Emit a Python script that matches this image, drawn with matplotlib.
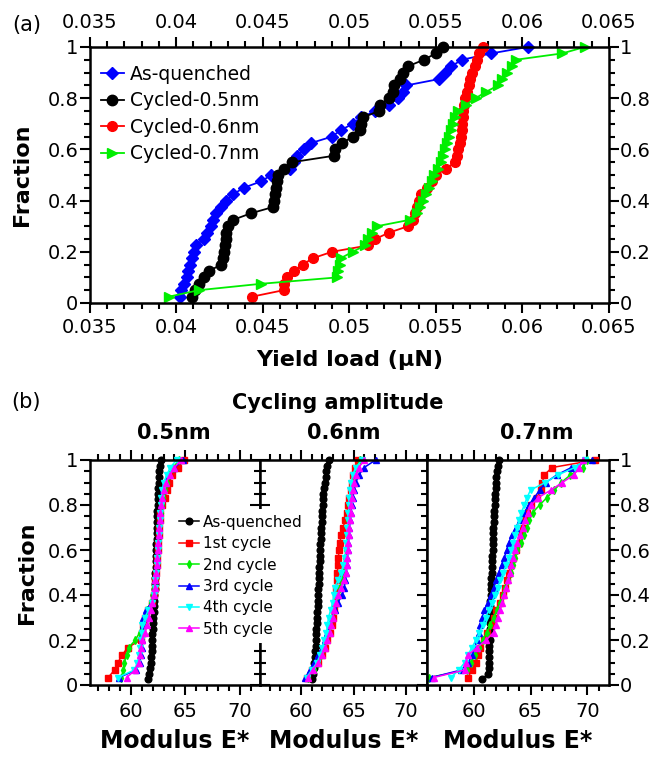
import matplotlib
matplotlib.use("Agg")
import matplotlib.pyplot as plt
import numpy as np
from matplotlib.ticker import MultipleLocator, FuncFormatter

plt.rcParams['font.family'] = ['DejaVu Sans']

# (a) yield load in uN, sorted; fraction is rank / n
yield_as_quenched = [0.0402, 0.0403, 0.04045, 0.0406, 0.0407, 0.0408, 0.0409, 0.04105, 0.04112, 0.0416,
                     0.0418, 0.0420, 0.0421, 0.0423, 0.0426, 0.0429, 0.0433, 0.0439, 0.0449, 0.0455,
                     0.0466, 0.0468, 0.0470, 0.0474, 0.0478, 0.0490, 0.0495, 0.0502, 0.0507, 0.0515,
                     0.0523, 0.0528, 0.0531, 0.0533, 0.0552, 0.0555, 0.0559, 0.0565, 0.0582, 0.0603]
yield_cycled_05 = [0.0409, 0.0411, 0.0413, 0.0416, 0.0419, 0.0426, 0.0427, 0.04275, 0.0428, 0.04285,
                   0.0429, 0.0430, 0.0433, 0.0443, 0.0456, 0.04565, 0.0457, 0.04575, 0.0458, 0.0459,
                   0.0462, 0.0467, 0.0491, 0.0492, 0.0496, 0.0502, 0.0506, 0.05068, 0.0508, 0.0517,
                   0.0518, 0.0523, 0.0525, 0.0526, 0.0529, 0.0531, 0.0534, 0.0543, 0.0550, 0.0554]
yield_cycled_06 = [0.0444, 0.0462, 0.04625, 0.0464, 0.0468, 0.0473, 0.0479, 0.0490, 0.0511, 0.0515,
                   0.0523, 0.0534, 0.05366, 0.0538, 0.0539, 0.0540, 0.05415, 0.0545, 0.0548, 0.0550,
                   0.0556, 0.0561, 0.0562, 0.0563, 0.05638, 0.05645, 0.0565, 0.05653, 0.05655, 0.05656,
                   0.0566, 0.0567, 0.0568, 0.0569, 0.0570, 0.0571, 0.05725, 0.0574, 0.0575, 0.0577]
yield_cycled_07 = [0.0396, 0.0413, 0.0449, 0.0493, 0.04937, 0.04945, 0.0495, 0.0502, 0.0509, 0.0511,
                   0.0513, 0.0516, 0.0535, 0.0539, 0.0541, 0.05427, 0.05445, 0.0546, 0.0548, 0.0549,
                   0.05513, 0.05527, 0.0554, 0.0555, 0.05562, 0.05573, 0.0559, 0.05598, 0.0561, 0.0563,
                   0.05675, 0.0573, 0.0579, 0.0586, 0.0588, 0.0591, 0.0594, 0.0596, 0.0623, 0.0636]

# (b) modulus E*, one list per cycle and amplitude
black_05 = [61.6, 61.7, 61.75, 61.8, 61.85, 61.9, 61.92, 61.95, 61.98, 62.0,
            62.03, 62.06, 62.08, 62.1, 62.13, 62.16, 62.19, 62.21, 62.23, 62.25,
            62.27, 62.29, 62.3, 62.32, 62.33, 62.35, 62.36, 62.38, 62.4, 62.42,
            62.44, 62.46, 62.48, 62.5, 62.52, 62.55, 62.58, 62.62, 62.66, 62.75]
red_05 = [57.9, 58.5, 58.8, 59.2, 59.7, 60.9, 61.0, 61.1, 61.3, 61.6, 61.9, 62.1, 62.2, 62.25, 62.3,
          62.35, 62.4, 62.45, 62.5, 62.55, 62.6, 62.65, 62.7, 62.9, 63.1, 63.3, 63.5, 63.8, 64.3, 64.9]
green_05 = [59.1, 59.3, 59.4, 59.6, 59.8, 60.4, 60.8, 61.1, 61.3, 61.5, 61.8, 62.0, 62.15, 62.25, 62.3,
            62.35, 62.4, 62.45, 62.5, 62.55, 62.6, 62.65, 62.75, 62.85, 62.95, 63.1, 63.3, 63.5, 63.9, 64.4]
blue_05 = [58.9, 60.5, 60.8, 60.9, 61.0, 61.05, 61.1, 61.1, 61.1, 61.4, 61.9, 62.1, 62.2, 62.25, 62.3,
           62.35, 62.4, 62.45, 62.5, 62.55, 62.6, 62.65, 62.7, 62.75, 62.85, 62.95, 63.1, 63.4, 64.0, 64.8]
cyan_05 = [58.8, 60.3, 60.6, 60.75, 60.85, 60.9, 61.0, 61.05, 61.3, 61.6, 61.9, 62.1, 62.2, 62.25, 62.3,
           62.35, 62.4, 62.45, 62.5, 62.55, 62.6, 62.65, 62.7, 62.75, 62.8, 62.9, 63.0, 63.3, 63.6, 64.2]
magenta_05 = [59.6, 60.4, 60.7, 60.85, 60.95, 61.05, 61.3, 61.5, 61.65, 61.8, 61.95, 62.1, 62.2, 62.25, 62.3,
              62.35, 62.4, 62.45, 62.5, 62.55, 62.6, 62.65, 62.7, 62.8, 62.9, 63.0, 63.2, 63.6, 64.0, 64.6]

black_06 = [61.05, 61.15, 61.2, 61.25, 61.3, 61.33, 61.36, 61.4, 61.42, 61.45,
            61.48, 61.5, 61.53, 61.56, 61.58, 61.6, 61.63, 61.65, 61.68, 61.7,
            61.73, 61.75, 61.78, 61.8, 61.83, 61.86, 61.88, 61.91, 61.94, 61.97,
            62.0, 62.04, 62.08, 62.12, 62.18, 62.25, 62.32, 62.4, 62.5, 62.6]
red_06 = [60.5, 61.0, 61.6, 62.0, 62.3, 62.5, 62.7, 62.9, 63.0, 63.1, 63.2, 63.3, 63.35, 63.4, 63.45,
          63.5, 63.55, 63.6, 63.7, 63.8, 64.0, 64.2, 64.35, 64.5, 64.6, 64.7, 64.8, 64.9, 65.1, 65.4]
green_06 = [60.6, 61.2, 61.6, 61.9, 62.2, 62.4, 62.6, 62.75, 62.9, 63.1, 63.3, 63.5, 63.7, 63.85, 64.0,
            64.1, 64.2, 64.3, 64.35, 64.4, 64.45, 64.5, 64.55, 64.6, 64.7, 64.8, 64.95, 65.1, 65.3, 65.6]
blue_06 = [60.4, 60.8, 61.2, 61.6, 62.0, 62.3, 62.5, 62.7, 62.9, 63.2, 63.5, 63.9, 64.1, 64.2, 64.3,
           64.35, 64.4, 64.45, 64.5, 64.55, 64.6, 64.65, 64.7, 64.8, 64.9, 65.0, 65.2, 65.5, 66.0, 67.1]
cyan_06 = [60.5, 61.0, 61.5, 61.8, 62.0, 62.2, 62.4, 62.5, 62.6, 62.8, 63.0, 63.1, 63.2, 63.5, 63.8,
           64.0, 64.15, 64.25, 64.3, 64.35, 64.4, 64.45, 64.5, 64.55, 64.6, 64.65, 64.75, 64.9, 65.2, 65.8]
magenta_06 = [60.6, 61.1, 61.6, 62.0, 62.3, 62.5, 62.7, 62.85, 63.0, 63.15, 63.3, 63.5, 63.8, 64.1, 64.25,
              64.35, 64.4, 64.45, 64.5, 64.55, 64.6, 64.65, 64.7, 64.75, 64.8, 64.9, 65.0, 65.2, 65.5, 66.0]

black_07 = [60.7, 61.3, 61.33, 61.35, 61.37, 61.38, 61.39, 61.4, 61.41, 61.42,
            61.43, 61.44, 61.45, 61.46, 61.48, 61.5, 61.52, 61.54, 61.56, 61.58,
            61.6, 61.62, 61.64, 61.66, 61.68, 61.7, 61.72, 61.74, 61.76, 61.79,
            61.82, 61.85, 61.88, 61.91, 61.94, 61.97, 62.0, 62.05, 62.1, 62.2]
red_07 = [59.5, 59.85, 60.2, 60.4, 60.6, 60.9, 61.2, 61.6, 61.8, 62.0, 62.3, 62.6, 62.75, 62.95, 63.1,
          63.3, 63.5, 63.75, 63.95, 64.15, 64.3, 64.5, 64.65, 65.0, 65.6, 65.9, 66.05, 66.2, 66.9, 70.7]
green_07 = [56.1, 59.4, 59.8, 60.1, 60.45, 60.8, 61.15, 61.45, 61.75, 62.05, 62.35, 62.6, 62.8, 63.05, 63.25,
            63.45, 63.65, 63.85, 64.2, 64.4, 64.65, 64.9, 65.2, 65.8, 66.45, 67.1, 67.7, 68.5, 69.6, 70.0]
blue_07 = [56.3, 58.9, 59.5, 59.9, 60.1, 60.3, 60.45, 60.55, 60.75, 60.95, 61.25, 61.5, 61.75, 61.95, 62.2,
           62.45, 62.7, 62.9, 63.1, 63.35, 63.7, 64.05, 64.45, 64.85, 65.35, 65.8, 66.35, 67.3, 68.6, 70.4]
cyan_07 = [58.0, 58.7, 59.2, 59.5, 59.85, 60.2, 60.5, 60.8, 61.05, 61.35, 61.6, 61.85, 62.1, 62.35, 62.6,
           62.85, 63.1, 63.3, 63.5, 63.65, 63.8, 64.0, 64.2, 64.45, 64.7, 65.0, 66.3, 67.4, 68.9, 69.8]
magenta_07 = [56.5, 59.2, 59.35, 59.5, 60.3, 61.1, 61.75, 61.95, 62.1, 62.3, 62.5, 62.7, 62.85, 63.05, 63.2,
              63.3, 63.45, 63.65, 63.8, 64.1, 64.3, 64.5, 64.75, 65.05, 65.7, 66.8, 67.8, 68.8, 69.3, 69.6]

amplitudes = ['0.5nm', '0.6nm', '0.7nm']
cycle_labels = ['As-quenched', '1st cycle', '2nd cycle', '3rd cycle', '4th cycle', '5th cycle']


def cdf(values):
    v = np.sort(np.asarray(values, dtype=float))
    return v, np.arange(1, len(v) + 1) / len(v)


fmt = FuncFormatter(lambda v, p: f"{v:g}")
W, H = 650, 757
fig = plt.figure(figsize=(W / 100, H / 100), dpi=100)


def px_axes(x0, y0, x1, y1):
    return fig.add_axes([x0 / W, 1 - y1 / H, (x1 - x0) / W, (y1 - y0) / H])


# ---------------- (a) ----------------
ax = px_axes(89.6, 47, 609, 303)
yield_series = [
    ('As-quenched', yield_as_quenched, '#0000ff', 'D', 6),
    ('Cycled-0.5nm', yield_cycled_05, 'black', 'o', 7.5),
    ('Cycled-0.6nm', yield_cycled_06, '#ff0000', 'o', 7),
    ('Cycled-0.7nm', yield_cycled_07, '#00ee00', '>', 7.5),
]
for label, vals, color, marker, ms in yield_series:
    x, f = cdf(vals)
    ax.plot(x, f, color=color, marker=marker, ms=ms, lw=1.3, label=label, clip_on=False)

ax.set_xlim(0.035, 0.065)
ax.set_ylim(0, 1)
ax.xaxis.set_major_locator(MultipleLocator(0.005))
ax.xaxis.set_minor_locator(MultipleLocator(0.001))
ax.yaxis.set_major_locator(MultipleLocator(0.2))
ax.yaxis.set_minor_locator(MultipleLocator(0.05))
ax.xaxis.set_major_formatter(fmt)
ax.yaxis.set_major_formatter(fmt)
ax.tick_params(which='both', direction='out', top=True, right=True,
               labeltop=True, labelright=True, width=1.5, labelsize=14)
ax.tick_params(which='major', length=7)
ax.tick_params(which='minor', length=4)
ax.tick_params(axis='x', pad=4)
ax.tick_params(axis='y', pad=1)
for s in ax.spines.values():
    s.set_linewidth(1.8)
ax.set_xlabel('Yield load (μN)', fontsize=16, fontweight='bold', labelpad=9)
ax.set_ylabel('Fraction', fontsize=16, fontweight='bold', labelpad=11)
ax.legend(loc='upper left', bbox_to_anchor=(0.022, 0.93), frameon=False, fontsize=13.5,
          handlelength=1.2, handletextpad=0.35, labelspacing=0.4, borderpad=0, borderaxespad=0)
fig.text(27 / W, 1 - 25 / H, '(a)', fontsize=15, ha='center', va='center')

# ---------------- (b) ----------------
cycle_styles = [('black', 'o', 4.8), ('#ff0000', 's', 4.5), ('#00ee00', 'd', 4),
                ('#0000ff', '^', 4.5), ('#00ffff', 'v', 5), ('#ff00ff', '^', 4.5)]
panel_data = [
    [black_05, red_05, green_05, blue_05, cyan_05, magenta_05],
    [black_06, red_06, green_06, blue_06, cyan_06, magenta_06],
    [black_07, red_07, green_07, blue_07, cyan_07, magenta_07],
]
panel_px = [(89.6, 260.4), (260.4, 427), (427, 609)]
panel_xlim = [(56.2, 71.9), (56.1, 72.0), (55.9, 71.9)]
title_x = [174, 344, 537]

axes_b = []
for i, (series, (x0, x1), xl) in enumerate(zip(panel_data, panel_px, panel_xlim)):
    bx = px_axes(x0, 460, x1, 685)
    axes_b.append(bx)
    for label, vals, (color, marker, ms) in zip(cycle_labels, series, cycle_styles):
        x, f = cdf(vals)
        bx.plot(x, f, color=color, marker=marker, ms=ms, lw=1.1, label=label, clip_on=False)
    bx.set_xlim(*xl)
    bx.set_ylim(0, 1)
    bx.xaxis.set_major_locator(MultipleLocator(5))
    bx.xaxis.set_minor_locator(MultipleLocator(1))
    bx.yaxis.set_major_locator(MultipleLocator(0.2))
    bx.yaxis.set_minor_locator(MultipleLocator(0.05))
    bx.xaxis.set_major_formatter(fmt)
    bx.yaxis.set_major_formatter(fmt)
    bx.tick_params(axis='x', which='both', direction='out', top=True, bottom=True,
                   width=1.5, labelsize=14, pad=5)
    bx.tick_params(axis='x', which='major', length=7)
    bx.tick_params(axis='x', which='minor', length=4)
    if i == 0:
        bx.tick_params(axis='y', which='both', direction='out', left=True, right=False,
                       width=1.5, labelsize=14, pad=1)
        bx.tick_params(axis='y', which='major', length=7)
        bx.tick_params(axis='y', which='minor', length=4)
        bx.set_ylabel('Fraction', fontsize=16, fontweight='bold', labelpad=8)
    elif i == 1:
        bx.tick_params(axis='y', which='both', direction='inout', left=True, right=True,
                       labelleft=False, width=1.5)
        bx.tick_params(axis='y', which='major', length=15)
        bx.tick_params(axis='y', which='minor', length=9)
    else:
        bx.tick_params(axis='y', which='both', direction='out', left=False, right=True,
                       labelleft=False, labelright=True, width=1.5, labelsize=14, pad=1)
        bx.tick_params(axis='y', which='major', length=7)
        bx.tick_params(axis='y', which='minor', length=4)
    for s in bx.spines.values():
        s.set_linewidth(1.8)
    bx.set_xlabel('Modulus E*', fontsize=17, fontweight='bold', labelpad=6)
    fig.text(title_x[i] / W, 1 - 433 / H, amplitudes[i], fontsize=15, fontweight='bold',
             ha='center', va='center')

handles, labels = axes_b[0].get_legend_handles_labels()
leg = fig.legend(handles, labels, loc='upper left', bbox_to_anchor=(165 / W, 1 - 501 / H),
                 fontsize=11, handlelength=1.3, handletextpad=0.3, labelspacing=0.42,
                 borderpad=0.4, frameon=True, fancybox=False, framealpha=1)
leg.get_frame().set_edgecolor('none')
leg.get_frame().set_facecolor('white')

fig.text(338 / W, 1 - 403 / H, 'Cycling amplitude', fontsize=15, fontweight='bold',
         ha='center', va='center')
fig.text(26 / W, 1 - 402 / H, '(b)', fontsize=15, ha='center', va='center')

fig.savefig('out.png', dpi=100)
